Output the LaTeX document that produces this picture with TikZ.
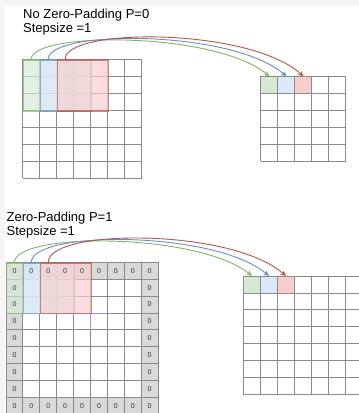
\documentclass[tikz,border=0pt]{standalone}
\usepackage{fontspec}
\setmainfont{Liberation Sans}
\usetikzlibrary{arrows.meta,calc}

\definecolor{gfill}{HTML}{D5E8D4}\definecolor{gline}{HTML}{82B366}
\definecolor{bfill}{HTML}{DAE8FC}\definecolor{bline}{HTML}{6C8EBF}
\definecolor{rfill}{HTML}{F8CECC}\definecolor{rline}{HTML}{B85450}
\definecolor{gridc}{HTML}{8A8A8A}
\definecolor{padc}{HTML}{D9D9D9}
\definecolor{bandc}{HTML}{F5F5F5}
\definecolor{strayc}{HTML}{9090F0}

% \cellgrid{x}{y}{columns}{rows}{cell size}: plain square grid
\newcommand\cellgrid[5]{%
  \foreach \k in {0,...,#3}{\draw[gridline] (#1+\k*#5,#2) -- (#1+\k*#5,#2+#4*#5);}
  \foreach \k in {0,...,#4}{\draw[gridline] (#1,#2+\k*#5) -- (#1+#3*#5,#2+\k*#5);}
}

\begin{document}
\begin{tikzpicture}[x=1pt,y=-1pt,
  gridline/.style={draw=gridc,line width=0.9pt},
  win/.style={line width=1.2pt,opacity=0.68,inner sep=0pt,anchor=north west},
  outcell/.style={inner sep=0pt,minimum width=17pt,minimum height=17pt,anchor=north west},
  link/.style={line width=0.9pt,-{Stealth[length=5.5pt,width=5pt]}},
  title/.style={anchor=base west,inner sep=0pt,font=\fontsize{13}{15}\selectfont},
  zero/.style={inner sep=0pt,font=\fontsize{7}{8}\selectfont,text=black!80}]
\useasboundingbox (0,0) rectangle (359,413);
\fill[white] (0,0) rectangle (359,413);
\fill[bandc] (0,0) rectangle (359,5.5);
\fill[bandc] (0,0) rectangle (5,413);

% ---------- without padding ----------
\node[title] (t1) at (23,18.3) {No Zero-Padding P=0};
\node[title] (t2) at (23,32.7) {Stepsize =1};

\cellgrid{22.7}{59.3}{7}{7}{17}
\node[win,fill=gfill,draw=gline,minimum width=51pt,minimum height=51pt] (wg1) at (22.7,59.3) {};
\node[win,fill=bfill,draw=bline,minimum width=51pt,minimum height=51pt] (wb1) at (39.7,59.3) {};
\node[win,fill=rfill,draw=rline,minimum width=51pt,minimum height=51pt] (wr1) at (56.7,59.3) {};

\node[outcell,fill=gfill] (og1) at (260.7,76.3) {};
\node[outcell,fill=bfill] (ob1) at (277.7,76.3) {};
\node[outcell,fill=rfill] (or1) at (294.7,76.3) {};
\cellgrid{260.7}{76.3}{5}{5}{17}

\coordinate (sg1) at ($(wg1.north west)+(8.5,0)$);
\coordinate (sb1) at ($(wb1.north west)+(8.5,0)$);
\coordinate (sr1) at ($(wr1.north west)+(8.5,0)$);
\draw[link,gline] (sg1) .. controls +(0,-28) and +(-54,-45) .. (og1.north);
\draw[link,bline] (sb1) .. controls +(0,-30) and +(-54,-47) .. (ob1.north);
\draw[link,rline] (sr1) .. controls +(0,-32) and +(-54,-49) .. (or1.north);

% ---------- with zero padding ----------
\node[title] (t3) at (6.5,221) {Zero-Padding P=1};
\node[title] (t4) at (6.5,235.5) {Stepsize =1};

\fill[padc] (6,262.3) rectangle ++(152.1,152.1);
\fill[white] (22.9,279.2) rectangle ++(118.3,118.3);
\cellgrid{6}{262.3}{9}{9}{16.9}
\draw[strayc,line width=0.9pt] (90.5,330) -- (90.5,313) -- (107.4,313);

\node[win,fill=gfill,draw=gline,minimum width=50.7pt,minimum height=50.7pt] (wg2) at (6,262.3) {};
\node[win,fill=bfill,draw=bline,minimum width=50.7pt,minimum height=50.7pt] (wb2) at (22.9,262.3) {};
\node[win,fill=rfill,draw=rline,minimum width=50.7pt,minimum height=50.7pt] (wr2) at (39.8,262.3) {};

\foreach \k in {0,...,8}{
  \node[zero] (zt\k) at (14.45+\k*16.9,270.75) {0};
  \node[zero] (zb\k) at (14.45+\k*16.9,405.95) {0};
}
\foreach \k in {1,...,7}{
  \node[zero] (zl\k) at (14.45,270.75+\k*16.9) {0};
  \node[zero] (zr\k) at (149.65,270.75+\k*16.9) {0};
}

\node[outcell,fill=gfill,minimum width=16.95pt,minimum height=16.95pt] (og2) at (243.3,276) {};
\node[outcell,fill=bfill,minimum width=16.95pt,minimum height=16.95pt] (ob2) at (260.25,276) {};
\node[outcell,fill=rfill,minimum width=16.95pt,minimum height=16.95pt] (or2) at (277.2,276) {};
\cellgrid{243.3}{276}{7}{7}{16.95}

\coordinate (sg2) at ($(wg2.north west)+(8.45,0)$);
\coordinate (sb2) at ($(wb2.north west)+(8.45,0)$);
\coordinate (sr2) at ($(wr2.north west)+(8.45,0)$);
\draw[link,gline] (sg2) .. controls +(0,-30) and +(-54,-44) .. (og2.north);
\draw[link,bline] (sb2) .. controls +(0,-32) and +(-54,-46) .. (ob2.north);
\draw[link,rline] (sr2) .. controls +(0,-34) and +(-54,-48) .. (or2.north);
\end{tikzpicture}
\end{document}
